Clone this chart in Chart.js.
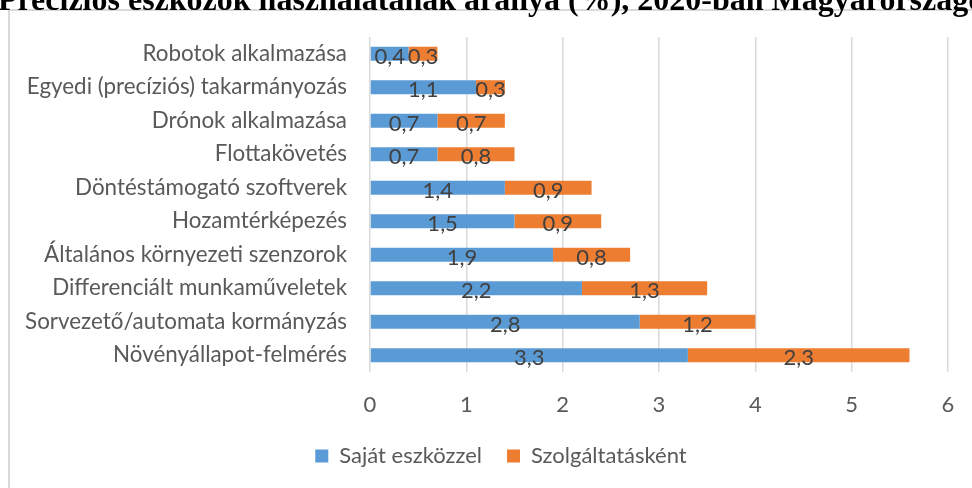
<!DOCTYPE html>
<html lang="hu">
<head>
<meta charset="utf-8">
<title>Precíziós eszközök használata</title>
<script src="https://cdn.jsdelivr.net/npm/chart.js@4.4.0/dist/chart.umd.min.js"></script>
<style>
  html, body { margin: 0; padding: 0; background: #fff; }
  #wrap { position: relative; width: 972px; height: 488px; overflow: hidden; }
  /* keret a diagram körül, jobbra és lent kilóg */
  #frame { position: absolute; left: 8px; top: 9px; width: 1100px; height: 700px;
           border: 2px solid #d9d9d9; box-sizing: border-box; }
  #chart { position: absolute; left: 0; top: 0; }
</style>
</head>
<body>
<div id="wrap">
  <div id="frame"></div>
  <canvas id="chart" width="972" height="488"></canvas>
</div>
<script>
// Adatok
const chartTitle = 'Precíziós eszközök használatának aránya (%), 2020-ban Magyarországon';
const categories = [
    'Robotok alkalmazása',
    'Egyedi (precíziós) takarmányozás',
    'Drónok alkalmazása',
    'Flottakövetés',
    'Döntéstámogató szoftverek',
    'Hozamtérképezés',
    'Általános környezeti szenzorok',
    'Differenciált munkaműveletek',
    'Sorvezető/automata kormányzás',
    'Növényállapot-felmérés'
];
const sajatEszkozzel = [0.4, 1.1, 0.7, 0.7, 1.4, 1.5, 1.9, 2.2, 2.8, 3.3];
const szolgaltataskent = [0.3, 0.3, 0.7, 0.8, 0.9, 0.9, 0.8, 1.3, 1.2, 2.3];
const seriesNames = ['Saját eszközzel', 'Szolgáltatásként'];
const xMin = 0, xMax = 6, xStep = 1;

const FONT = 'Lato, "Open Sans", sans-serif';
const TEXT_COLOR = '#595959';
const GRID_COLOR = '#d9d9d9';

// Cím - felül levágva, ahogy a dokumentumban
const titlePlugin = {
    id: 'croppedTitle',
    afterDraw(chart) {
        const ctx = chart.ctx;
        ctx.save();
        ctx.font = 'bold 32px "Liberation Serif", "Times New Roman", serif';
        ctx.fillStyle = '#000';
        ctx.textAlign = 'center';
        ctx.textBaseline = 'alphabetic';
        ctx.fillText(chartTitle, 500, 10);
        ctx.restore();
    }
};

// Jelmagyarázat a keret közepére igazítva (a keret jobbra túllóg a vásznon)
const legendShift = {
    id: 'legendShift',
    afterLayout(chart) {
        chart.legend.left += 22;
        chart.legend.right += 22;
    }
};

// Értékcímkék a sávok közepén, tizedesvesszővel
const valueLabels = {
    id: 'valueLabels',
    afterDatasetsDraw(chart) {
        const ctx = chart.ctx;
        ctx.save();
        ctx.font = '22px ' + FONT;
        ctx.fillStyle = '#404040';
        ctx.textAlign = 'center';
        ctx.textBaseline = 'middle';
        chart.data.datasets.forEach((ds, i) => {
            chart.getDatasetMeta(i).data.forEach((bar, j) => {
                const text = ds.data[j].toFixed(1).replace('.', ',');
                ctx.fillText(text, (bar.x + bar.base) / 2, bar.y + 3);
            });
        });
        ctx.restore();
    }
};

new Chart(document.getElementById('chart'), {
    type: 'bar',
    data: {
        labels: categories,
        datasets: [{
            label: seriesNames[0],
            data: sajatEszkozzel,
            backgroundColor: '#5b9bd5',
            barPercentage: 0.42,
            categoryPercentage: 1
        }, {
            label: seriesNames[1],
            data: szolgaltataskent,
            backgroundColor: '#ed7d31',
            barPercentage: 0.42,
            categoryPercentage: 1
        }]
    },
    options: {
        indexAxis: 'y',
        responsive: false,
        animation: false,
        layout: { padding: { top: 37, left: 10, right: 24, bottom: 11 } },
        scales: {
            x: {
                stacked: true,
                min: xMin,
                max: xMax,
                grid: { color: GRID_COLOR, lineWidth: 1.5, drawTicks: false },
                border: { display: false },
                ticks: {
                    stepSize: xStep,
                    padding: 20,
                    color: TEXT_COLOR,
                    font: { family: FONT, size: 22 }
                },
                afterFit(scale) {
                    scale.paddingRight = 0;
                    scale.height = 48;
                }
            },
            y: {
                stacked: true,
                grid: { display: false, drawTicks: false },
                border: { display: false },
                ticks: {
                    padding: 23,
                    color: TEXT_COLOR,
                    font: { family: FONT, size: 22.4 }
                },
                afterFit(scale) {
                    scale.width = 360;
                }
            }
        },
        plugins: {
            legend: {
                position: 'bottom',
                labels: {
                    boxWidth: 13,
                    boxHeight: 13,
                    padding: 25,
                    color: TEXT_COLOR,
                    font: { family: FONT, size: 22, lineHeight: 1 }
                }
            },
            tooltip: { enabled: false }
        }
    },
    plugins: [valueLabels, titlePlugin, legendShift]
});
</script>
</body>
</html>
